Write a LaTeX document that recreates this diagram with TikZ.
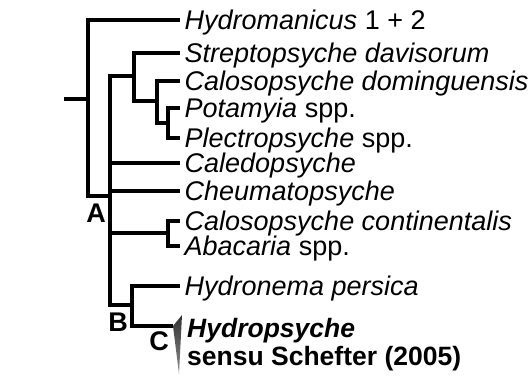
\documentclass[tikz,border=0pt]{standalone}
\usepackage{fontspec}
\setmainfont{Liberation Sans}
\begin{document}
\begin{tikzpicture}[x=1pt,y=-1pt,
  br/.style={line width=3.2pt},
  leaf/.style={anchor=west, inner sep=0pt, xshift=4.5pt, text height=19.5pt, text depth=0pt,
    font=\fontsize{27}{29}\selectfont},
  lab/.style={inner sep=0pt, font=\fontsize{27}{29}\selectfont\bfseries},
  clade/.style={anchor=base west, inner sep=0pt, font=\fontsize{26.5}{28}\selectfont\bfseries}]
\useasboundingbox (0,0) rectangle (532,376);
% tips
\coordinate (tHm) at (180,20);
\coordinate (tSt) at (180,53);
\coordinate (tCd) at (180,81);
\coordinate (tPo) at (180,108);
\coordinate (tPl) at (180,138);
\coordinate (tCa) at (180,163);
\coordinate (tCh) at (180,191);
\coordinate (tCc) at (180,221);
\coordinate (tAb) at (180,246);
\coordinate (tHn) at (180,286);
\coordinate (tri) at (173,326);
% internal nodes
\coordinate (root) at (64,99);
\coordinate (r) at (88,99);
\coordinate (nA) at (110,196);
\coordinate (n1) at (134,76);
\coordinate (n2) at (157,101);
\coordinate (n3) at (168,123);
\coordinate (n4) at (168,233);
\coordinate (nB) at (132,305);
% leaves
\node[leaf] (lHm) at (tHm) {\itshape Hydromanicus\/\upshape{} 1 + 2};
\node[leaf] (lSt) at (tSt) {\itshape Streptopsyche davisorum};
\node[leaf] (lCd) at (tCd) {\itshape Calosopsyche dominguensis};
\node[leaf] (lPo) at (tPo) {\itshape Potamyia\/\upshape{} spp.};
\node[leaf] (lPl) at (tPl) {\itshape Plectropsyche\/\upshape{} spp.};
\node[leaf] (lCa) at (tCa) {\itshape Caledopsyche};
\node[leaf] (lCh) at (tCh) {\itshape Cheumatopsyche};
\node[leaf] (lCc) at (tCc) {\itshape Calosopsyche continentalis};
\node[leaf] (lAb) at (tAb) {\itshape Abacaria\/\upshape{} spp.};
\node[leaf] (lHn) at (tHn) {\itshape Hydronema persica};
\node[clade] (hyd) at (187,337) {\itshape Hydropsyche};
\node[clade] (sensu) at (187,365) {sensu Schefter (2005)};
% branches
\draw[br] (root) -- (r);
\draw[br] (tHm) -| (r) |- (nA);
\draw[br] (n1) -| (nA) |- (nB);
\draw[br] (tSt) -| (n1) |- (n2);
\draw[br] (tCd) -| (n2) |- (n3);
\draw[br] (tPo) -| (n3) |- (tPl);
\draw[br] (nA |- tCa) -- (tCa);
\draw[br] (nA |- tCh) -- (tCh);
\draw[br] (nA |- n4) -- (n4);
\draw[br] (tCc) -| (n4) |- (tAb);
\draw[br] (tHn) -| (nB) |- (tri);
% collapsed clade wedge
\shade[top color=black!80, bottom color=black!45] (tri) -- (182,315) -- (179,374) -- cycle;
% clade labels
\node[lab] (labA) at (96,213) {A};
\node[lab] (labB) at (118,322) {B};
\node[lab] (labC) at (159,341) {C};
\end{tikzpicture}
\end{document}
